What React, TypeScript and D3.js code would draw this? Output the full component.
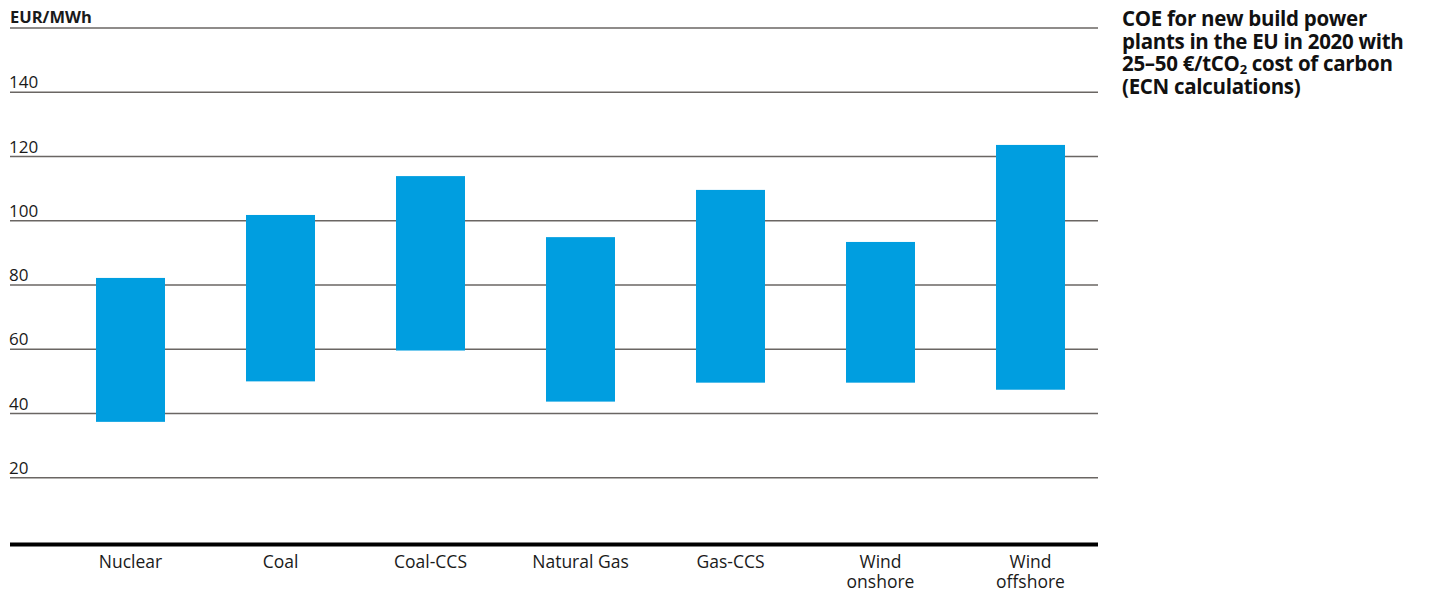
import React, { useRef, useEffect } from "react";
import * as d3 from "d3";

// Levelised cost of electricity ranges, EUR/MWh
const categories = [
  "Nuclear",
  "Coal",
  "Coal-CCS",
  "Natural Gas",
  "Gas-CCS",
  "Wind onshore",
  "Wind offshore",
];
const lowValues = [37.4, 50, 59.6, 43.7, 49.6, 49.6, 47.4];
const highValues = [82.2, 101.8, 113.9, 94.9, 109.6, 93.4, 123.6];
const yTicks = [20, 40, 60, 80, 100, 120, 140];
const titleLines = [
  "COE for new build power",
  "plants in the EU in 2020 with",
  "25–50 €/tCO₂ cost of carbon",
  "(ECN calculations)",
];

const App = () => {
  const svgRef = useRef<SVGSVGElement>(null);

  useEffect(() => {
    document.body.style.margin = "0";
    if (!svgRef.current) return;
    const svg = d3.select(svgRef.current);
    svg.selectAll("*").remove();

    const font = "'Open Sans', Roboto, sans-serif";
    const left = 10;
    const right = 1098;

    const y = d3.scaleLinear().domain([0, 160]).range([542, 28]);
    const x = d3
      .scaleBand()
      .domain(categories)
      .range([55.5, 1105.5])
      .paddingInner(0.54)
      .paddingOuter(0.27);

    // gridlines + tick labels
    const grid = svg.append("g");
    grid
      .selectAll("line")
      .data([...yTicks, 160])
      .enter()
      .append("line")
      .attr("x1", left)
      .attr("x2", right)
      .attr("y1", (d) => y(d))
      .attr("y2", (d) => y(d))
      .attr("stroke", "#6a6663")
      .attr("stroke-width", 1.5);

    grid
      .selectAll("text")
      .data(yTicks)
      .enter()
      .append("text")
      .attr("x", left - 1)
      .attr("y", (d) => y(d) - 4)
      .style("font-family", font)
      .style("font-size", "17px")
      .style("fill", "#1a1a1a")
      .text((d) => d);

    svg
      .append("text")
      .attr("x", left)
      .attr("y", y(160) - 5)
      .style("font-family", font)
      .style("font-size", "16.5px")
      .style("font-weight", "bold")
      .style("fill", "#1a1a1a")
      .text("EUR/MWh");

    // floating bars
    svg
      .append("g")
      .selectAll("rect")
      .data(categories)
      .enter()
      .append("rect")
      .attr("x", (d) => x(d) as number)
      .attr("width", x.bandwidth())
      .attr("y", (_, i) => y(highValues[i]))
      .attr("height", (_, i) => y(lowValues[i]) - y(highValues[i]))
      .attr("fill", "#009ee0");

    // baseline
    svg
      .append("line")
      .attr("x1", left)
      .attr("x2", right)
      .attr("y1", y(0) + 2.5)
      .attr("y2", y(0) + 2.5)
      .attr("stroke", "#000")
      .attr("stroke-width", 4);

    // category labels
    const labels = svg
      .append("g")
      .selectAll("text")
      .data(categories)
      .enter()
      .append("text")
      .attr("text-anchor", "middle")
      .attr("y", 568)
      .style("font-family", font)
      .style("font-size", "17.5px")
      .style("fill", "#1a1a1a");
    labels.each(function (d) {
      const cx = (x(d) as number) + x.bandwidth() / 2;
      const parts = d.startsWith("Wind") ? d.split(" ") : [d];
      parts.forEach((p, i) => {
        d3.select(this)
          .append("tspan")
          .attr("x", cx)
          .attr("dy", i === 0 ? 0 : 20)
          .text(p);
      });
    });

    // title, one text per line
    const title = svg.append("g");
    titleLines.forEach((line, i) => {
      const t = title
        .append("text")
        .attr("x", 1122)
        .attr("y", 26 + i * 22.7)
        .style("font-family", font)
        .style("font-size", "20.5px")
        .style("font-weight", "bold")
        .style("letter-spacing", "-0.3px")
        .style("fill", "#111");
      if (line.includes("₂")) {
        const [a, b] = line.split("₂");
        t.append("tspan").text(a);
        t.append("tspan")
          .attr("dy", 3)
          .style("font-size", "13px")
          .text("2");
        t.append("tspan").attr("dy", -3).text(b);
      } else {
        t.text(line);
      }
    });
  }, []);

  return <svg ref={svgRef} width={1432} height={591} style={{ display: "block" }} />;
};

export default App;
